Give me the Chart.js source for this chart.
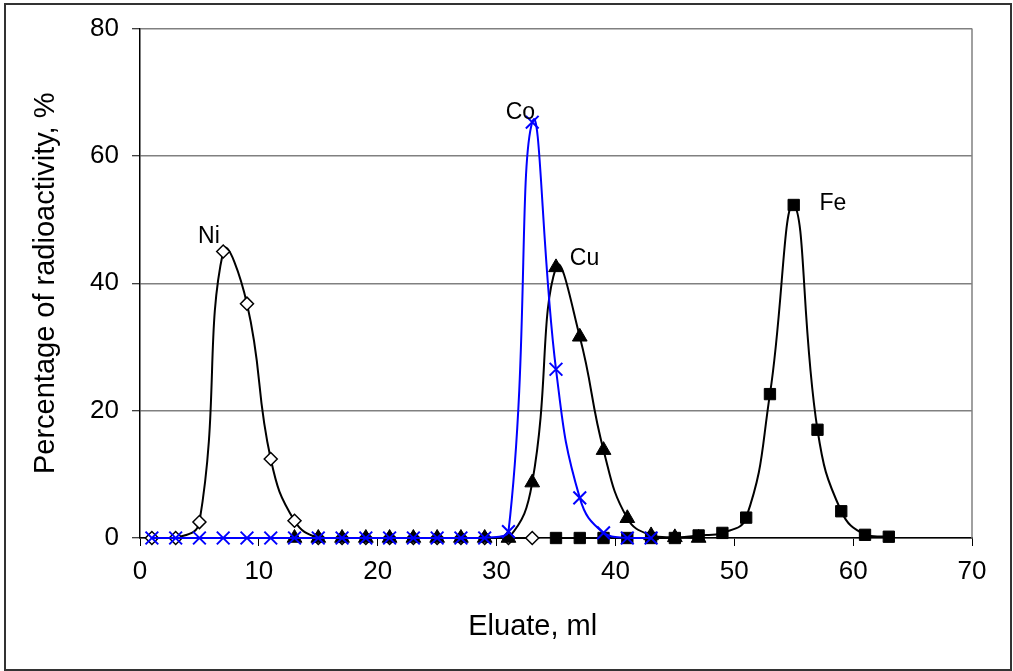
<!DOCTYPE html>
<html>
<head>
<meta charset="utf-8">
<script src="https://cdn.jsdelivr.net/npm/chart.js@4/dist/chart.umd.min.js"></script>
<style>
  body { margin: 0; background: #fff; }
  #wrap { width: 1013px; height: 671px; }
</style>
</head>
<body>
<div id="wrap"><canvas id="chart" width="1013" height="671"></canvas></div>
<script>
// ---- data ----
const niX = [1, 3, 5, 7, 9, 11, 13, 15, 17, 19, 21, 23, 25, 27, 29, 31, 33];
const niY = [0, 0, 2.5, 45, 36.8, 12.4, 2.7, 0, 0, 0, 0, 0, 0, 0, 0, 0, 0];

const cuX = [13, 15, 17, 19, 21, 23, 25, 27, 29, 31, 33, 35, 37, 39, 41, 43, 45, 47];
const cuY = [0, 0, 0, 0, 0, 0, 0, 0, 0, 0, 8.7, 42.5, 31.6, 13.8, 3.1, 0.4, 0.1, 0];

const feX = [35, 37, 39, 41, 43, 45, 47, 49, 51, 53, 55, 57, 59, 61, 63];
const feY = [0, 0, 0, 0, 0, 0, 0.4, 0.8, 3.2, 22.6, 52.3, 17.0, 4.2, 0.5, 0.2];

const coX = [1, 3, 5, 7, 9, 11, 13, 15, 17, 19, 21, 23, 25, 27, 29, 31, 33, 35, 37, 39, 41, 43];
const coY = [0, 0, 0, 0, 0, 0, 0, 0, 0, 0, 0, 0, 0, 0, 0, 1.0, 65.3, 26.5, 6.3, 0.8, 0, 0];

// series name labels (data coordinates of the text centre)
const tagNames = ["Ni", "Co", "Cu", "Fe"];
const tagX = [5.8, 32.0, 37.4, 58.3];
const tagY = [47.4, 66.8, 43.9, 52.5];

const xTicks = [0, 10, 20, 30, 40, 50, 60, 70];
const yTicks = [0, 20, 40, 60, 80];

const xTitle = "Eluate, ml";
const yTitle = "Percentage of radioactivity, %";

const FONT = "'Liberation Sans', Arial, sans-serif";

function pts(xs, ys) {
    return xs.map((x, i) => ({ x: x, y: ys[i] }));
}

// ---- frame, plot border, titles, series labels ----
const decor = {
    id: "decor",
    beforeDraw(chart) {
        const ctx = chart.ctx;
        ctx.save();
        ctx.fillStyle = "#fff";
        ctx.fillRect(0, 0, chart.width, chart.height);
        ctx.restore();
    },
    afterDatasetsDraw(chart) {
        const ctx = chart.ctx;
        const a = chart.chartArea;
        const xs = chart.scales.x;
        const ys = chart.scales.y;
        ctx.save();

        // grey plot border on the right
        ctx.strokeStyle = "#808080";
        ctx.lineWidth = 1.5;
        ctx.beginPath();
        ctx.moveTo(a.right, a.top);
        ctx.lineTo(a.right, a.bottom);
        ctx.stroke();

        // outer frame
        ctx.strokeStyle = "#333";
        ctx.lineWidth = 2;
        ctx.strokeRect(5, 4, chart.width - 7, chart.height - 5);

        // series labels
        ctx.fillStyle = "#000";
        ctx.font = "23px " + FONT;
        ctx.textAlign = "center";
        ctx.textBaseline = "middle";
        tagNames.forEach((t, i) => {
            ctx.fillText(t, xs.getPixelForValue(tagX[i]), ys.getPixelForValue(tagY[i]));
        });

        // axis titles
        ctx.font = "29px " + FONT;
        ctx.textBaseline = "alphabetic";
        ctx.fillText(xTitle, a.left + (a.right - a.left) * 0.472, 635);

        ctx.translate(54, (a.top + a.bottom) / 2);
        ctx.rotate(-Math.PI / 2);
        ctx.fillText(yTitle, 0, 0);

        ctx.restore();
    }
};

new Chart(document.getElementById("chart"), {
    type: "line",
    data: {
        datasets: [
            {
                label: "Co",
                data: pts(coX, coY),
                borderColor: "#0000ff",
                borderWidth: 2,
                pointStyle: "crossRot",
                pointRadius: 9,
                pointBorderColor: "#0000ff",
                pointBorderWidth: 2,
                tension: 0.45,
                clip: false,
                order: 0
            },
            {
                label: "Fe",
                data: pts(feX, feY),
                borderColor: "#000",
                borderWidth: 2,
                pointStyle: "rect",
                pointRadius: 8,
                pointBackgroundColor: "#000",
                pointBorderColor: "#000",
                pointBorderWidth: 1,
                tension: 0.45,
                clip: false,
                order: 1
            },
            {
                label: "Cu",
                data: pts(cuX, cuY),
                borderColor: "#000",
                borderWidth: 2,
                pointStyle: "triangle",
                pointRadius: 8.5,
                pointBackgroundColor: "#000",
                pointBorderColor: "#000",
                pointBorderWidth: 1,
                tension: 0.45,
                clip: false,
                order: 2
            },
            {
                label: "Ni",
                data: pts(niX, niY),
                borderColor: "#000",
                borderWidth: 2,
                pointStyle: "rectRot",
                pointRadius: 6.5,
                pointBackgroundColor: "#fff",
                pointBorderColor: "#000",
                pointBorderWidth: 1.5,
                tension: 0.45,
                clip: false,
                order: 3
            }
        ]
    },
    options: {
        responsive: false,
        animation: false,
        events: [],
        layout: {
            padding: { top: 28, right: 41, left: 0, bottom: 0 }
        },
        plugins: {
            legend: { display: false },
            tooltip: { enabled: false }
        },
        scales: {
            x: {
                type: "linear",
                min: xTicks[0],
                max: xTicks[xTicks.length - 1],
                afterBuildTicks: s => { s.ticks = xTicks.map(v => ({ value: v })); },
                afterFit: s => { s.height = 133; },
                ticks: {
                    color: "#000",
                    font: { family: FONT, size: 26 },
                    padding: 10,
                    maxRotation: 0
                },
                grid: {
                    drawOnChartArea: false,
                    drawTicks: true,
                    tickLength: 8,
                    tickColor: "#000",
                    tickWidth: 1
                },
                border: { color: "#000", width: 1.5 }
            },
            y: {
                min: yTicks[0],
                max: yTicks[yTicks.length - 1],
                afterBuildTicks: s => { s.ticks = yTicks.map(v => ({ value: v })); },
                afterFit: s => { s.width = 140; },
                ticks: {
                    color: "#000",
                    font: { family: FONT, size: 26 },
                    padding: 13
                },
                grid: {
                    color: "#808080",
                    lineWidth: 1.5,
                    tickLength: 8,
                    tickColor: "#000",
                    tickWidth: 1
                },
                border: { color: "#000", width: 1.5 }
            }
        }
    },
    plugins: [decor]
});
</script>
</body>
</html>
